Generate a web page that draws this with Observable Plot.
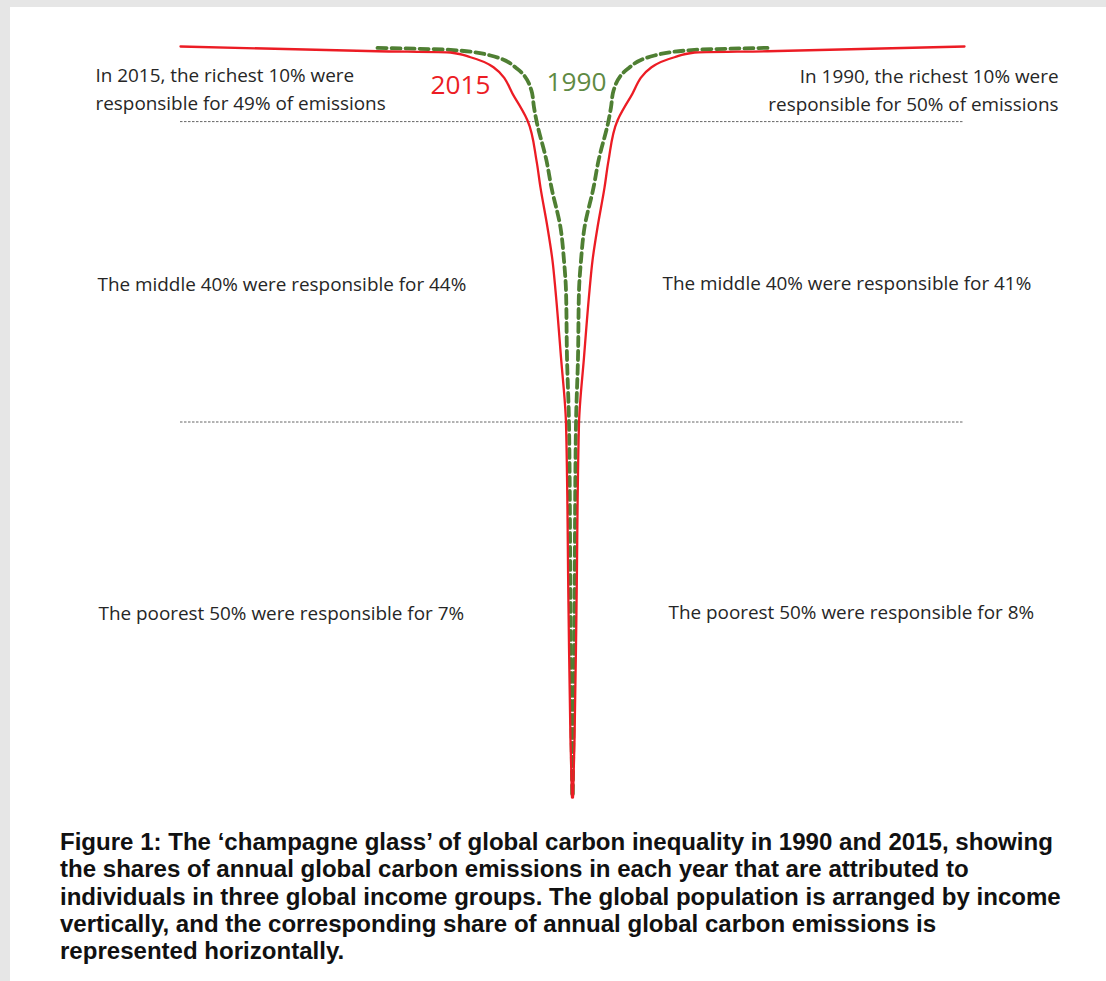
<!DOCTYPE html>
<html>
<head>
<meta charset="utf-8">
<script src="https://cdn.jsdelivr.net/npm/d3@7"></script>
<script src="https://cdn.jsdelivr.net/npm/@observablehq/plot@0.6"></script>
<style>
  html, body { margin: 0; padding: 0; background: #e6e6e6; }
  #panel { position: absolute; left: 10px; top: 7px; width: 1096px; height: 974px; background: #ffffff; }
  #chart { position: absolute; left: 0; top: 0; }
  #caption { position: absolute; left: 50px; top: 821px; font-family: "Liberation Sans", Arial, sans-serif;
             font-weight: bold; color: #111; white-space: nowrap; line-height: 27.3px; }
</style>
</head>
<body>
<div id="panel">
  <div id="chart"></div>
  <div id="caption"></div>
</div>
<script>
// Global income percentile (vertical) vs relative per-capita emissions (horizontal half-width)
const percentile2015 = [100, 99.37, 99.2, 98.57, 97.24, 93.25, 90.15, 84.8, 81.2, 75.9, 71.5, 67.5, 58.6, 49.8, 25.3, 7.6, 0];
const emissions2015  = [39.2, 19.5, 12.2, 10.2, 7.9, 5.8, 4.5, 3.6, 3.2, 2.5, 2.0, 1.7, 1.15, 0.65, 0.4, 0.2, 0.05];
const percentile1990 = [99.82, 99.55, 98.8, 97.0, 94.1, 91.9, 90.1, 84.8, 81.2, 75.9, 71.5, 67.5, 58.6, 49.8, 25.3, 0];
const emissions1990  = [19.5, 12.2, 8.2, 5.5, 4.1, 3.85, 3.6, 2.6, 2.1, 1.2, 0.85, 0.65, 0.55, 0.35, 0.2, 0.03];
const groupBoundaries = [90, 50];
const years = ["2015", "1990"];
const labelsLeft  = ["In 2015, the richest 10% were\nresponsible for 49% of emissions",
                     "The middle 40% were responsible for 44%",
                     "The poorest 50% were responsible for 7%"];
const labelsRight = ["In 1990, the richest 10% were\nresponsible for 50% of emissions",
                     "The middle 40% were responsible for 41%",
                     "The poorest 50% were responsible for 8%"];
const captionLines = [
  "Figure 1: The \u2018champagne glass\u2019 of global carbon inequality in 1990 and 2015, showing",
  "the shares of annual global carbon emissions in each year that are attributed to",
  "individuals in three global income groups. The global population is arranged by income",
  "vertically, and the corresponding share of annual global carbon emissions is",
  "represented horizontally."
];

function glass(percentiles, values, year) {
  const rows = [];
  for (const side of [-1, 1]) {
    percentiles.forEach((p, i) => rows.push({year, side, p, x: side * values[i]}));
  }
  return rows;
}
const rows2015 = glass(percentile2015, emissions2015, "2015");
const rows1990 = glass(percentile1990, emissions1990, "1990");

// fit font sizes with canvas measurement
const ctx = document.createElement("canvas").getContext("2d");
function fit(text, font, basePx, target) {
  ctx.font = font.replace("{}", basePx + "px");
  return basePx * target / ctx.measureText(text).width;
}
const annFont = "Open Sans";
const annSize = fit(labelsLeft[1], "{} 'Open Sans'", 16, 369);
const yearSize = fit(years[0], "{} 'Open Sans'", 26, 60);
const capSize = fit(captionLines[0], "bold {} 'Liberation Sans'", 20, 995);

const red = "#ec1c24";
const green = "#4f7f33";
const textColor = "#262626";

const plot = Plot.plot({
  width: 1096,
  height: 810,
  marginTop: 0, marginRight: 0, marginBottom: 0, marginLeft: 0,
  x: {domain: [-40, 40], range: [162, 962], axis: null},
  y: {domain: [0, 100], range: [790, 39], axis: null},
  style: {background: "#ffffff", overflow: "visible"},
  marks: [
    Plot.ruleY(groupBoundaries, {x1: -39.2, x2: 39.1, stroke: "#666666", strokeWidth: 1, strokeDasharray: "2.5,1.5"}),
    Plot.line(rows1990, {x: "x", y: "p", z: "side", stroke: green, strokeWidth: 3.8, strokeDasharray: "9,5", curve: "monotone-y"}),
    Plot.line(rows2015, {x: "x", y: "p", z: "side", stroke: red, strokeWidth: 2.3, curve: "monotone-y"}),
    Plot.text([years[0]], {x: -11.2, y: 94.8, text: d => d, fill: red, fontSize: yearSize, fontFamily: annFont}),
    Plot.text([years[1]], {x: 0.4, y: 95.2, text: d => d, fill: "#5f8a43", fontSize: yearSize, fontFamily: annFont}),
    Plot.text([labelsLeft[0]], {x: -47.7, y: 94.55, text: d => d, textAnchor: "start", lineHeight: 28 / annSize, fill: textColor, fontSize: annSize, fontFamily: annFont}),
    Plot.text([labelsRight[0]], {x: 48.6, y: 94.45, text: d => d, textAnchor: "end", lineHeight: 28 / annSize, fill: textColor, fontSize: annSize, fontFamily: annFont}),
    Plot.text([labelsLeft[1]], {x: -47.5, y: 68.3, text: d => d, textAnchor: "start", fill: textColor, fontSize: annSize, fontFamily: annFont}),
    Plot.text([labelsRight[1]], {x: 9.0, y: 68.4, text: d => d, textAnchor: "start", fill: textColor, fontSize: annSize, fontFamily: annFont}),
    Plot.text([labelsLeft[2]], {x: -47.4, y: 24.5, text: d => d, textAnchor: "start", fill: textColor, fontSize: annSize, fontFamily: annFont}),
    Plot.text([labelsRight[2]], {x: 9.6, y: 24.6, text: d => d, textAnchor: "start", fill: textColor, fontSize: annSize, fontFamily: annFont})
  ]
});
document.getElementById("chart").appendChild(plot);

const cap = document.getElementById("caption");
cap.style.fontSize = capSize + "px";
cap.innerHTML = captionLines.map(l => l.replace(/&/g, "&amp;").replace(/</g, "&lt;")).join("<br>");
</script>
</body>
</html>
